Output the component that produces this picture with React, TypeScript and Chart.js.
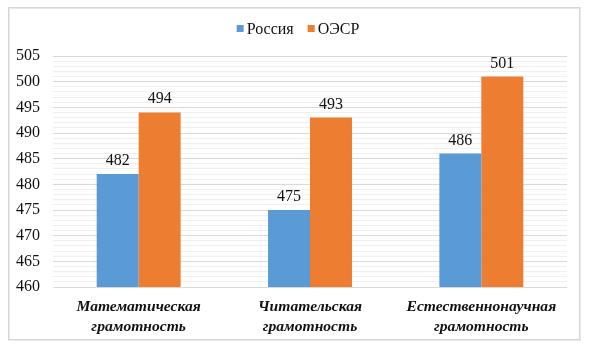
import { useEffect, useRef } from "react";
import { Chart, registerables } from "chart.js";

Chart.register(...registerables);

const categories: string[][] = [
  ["Математическая", "грамотность"],
  ["Читательская", "грамотность"],
  ["Естественнонаучная", "грамотность"],
];
const seriesNames = ["Россия", "ОЭСР"];
const russiaValues = [482, 475, 486];
const oecdValues = [494, 493, 501];
const seriesColors = ["#5B9BD5", "#ED7D31"];
const yMin = 460;
const yMax = 505;
const yMajorStep = 5;

const SERIF = "'Liberation Serif', 'Times New Roman', serif";

const dataLabelPlugin = {
  id: "dataLabels",
  afterDatasetsDraw(chart: any) {
    const ctx = chart.ctx;
    ctx.save();
    ctx.font = `16px ${SERIF}`;
    ctx.fillStyle = "#111111";
    ctx.textAlign = "center";
    ctx.textBaseline = "alphabetic";
    chart.data.datasets.forEach((ds: any, i: number) => {
      const meta = chart.getDatasetMeta(i);
      meta.data.forEach((bar: any, j: number) => {
        ctx.fillText(String(ds.data[j]), bar.x, bar.y - 9);
      });
    });
    ctx.restore();
  },
};

const frameLegendPlugin = {
  id: "frameLegend",
  beforeDraw(chart: any) {
    const ctx = chart.ctx;
    ctx.save();
    ctx.fillStyle = "#ffffff";
    ctx.fillRect(0, 0, chart.width, chart.height);
    ctx.strokeStyle = "#e8e8e8";
    ctx.lineWidth = 2;
    ctx.strokeRect(9, 8, 571, 332);
    ctx.strokeStyle = "#d6d6d6";
    ctx.lineWidth = 1;
    ctx.strokeRect(8.5, 7.5, 571, 332);
    ctx.restore();
  },
  afterDraw(chart: any) {
    const ctx = chart.ctx;
    ctx.save();
    ctx.font = `16px ${SERIF}`;
    ctx.textBaseline = "middle";
    ctx.textAlign = "left";
    const box = 7;
    const gap = 3;
    const spacing = 14;
    const items = chart.data.datasets.map((ds: any) => ({
      label: ds.label,
      color: ds.backgroundColor,
      w: ctx.measureText(ds.label).width,
    }));
    const total =
      items.reduce((s: number, it: any) => s + box + gap + it.w, 0) +
      spacing * (items.length - 1);
    let x = chart.width / 2 + 3 - total / 2;
    const cy = 29;
    items.forEach((it: any) => {
      ctx.fillStyle = it.color;
      ctx.fillRect(x, cy - 4, box, box);
      x += box + gap;
      ctx.fillStyle = "#111111";
      ctx.fillText(it.label, x, cy + 1);
      x += it.w + spacing;
    });
    ctx.restore();
  },
};

export default function App() {
  const ref = useRef<HTMLCanvasElement | null>(null);
  useEffect(() => {
    document.body.style.margin = "0";
    if (!ref.current) return;
    const chart = new Chart(ref.current, {
      type: "bar",
      data: {
        labels: categories,
        datasets: [
          {
            label: seriesNames[0],
            data: russiaValues,
            backgroundColor: seriesColors[0],
            categoryPercentage: 0.49,
            barPercentage: 1,
          },
          {
            label: seriesNames[1],
            data: oecdValues,
            backgroundColor: seriesColors[1],
            categoryPercentage: 0.49,
            barPercentage: 1,
          },
        ],
      },
      options: {
        animation: false,
        responsive: false,
        layout: { padding: { left: 10, right: 23, top: 56, bottom: 16 } },
        plugins: {
          legend: { display: false },
          tooltip: { enabled: false },
        },
        scales: {
          x: {
            grid: { display: false, drawTicks: false },
            border: { display: false },
            ticks: {
              padding: 10,
              color: "#111111",
              font: {
                family: SERIF,
                size: 15.6,
                style: "italic",
                weight: "bold",
                lineHeight: 20 / 15.6,
              },
            },
            afterFit(scale: any) {
              scale.height = 50;
            },
          },
          y: {
            min: yMin,
            max: yMax,
            border: { display: false },
            grid: {
              drawTicks: false,
              color: (c: any) =>
                c.tick && c.tick.value % yMajorStep === 0 ? "#d9d9d9" : "#f0f0f0",
            },
            ticks: {
              stepSize: 1,
              autoSkip: false,
              padding: 13,
              color: "#111111",
              font: { family: SERIF, size: 16 },
              callback: (v: any) => (Number(v) % yMajorStep === 0 ? String(v) : ""),
            },
            afterFit(scale: any) {
              scale.width = 43;
            },
          },
        },
      },
      plugins: [dataLabelPlugin, frameLegendPlugin],
    });
    return () => chart.destroy();
  }, []);
  return (
    <div style={{ width: 590, height: 353 }}>
      <canvas ref={ref} width={590} height={353} style={{ display: "block" }} />
    </div>
  );
}
